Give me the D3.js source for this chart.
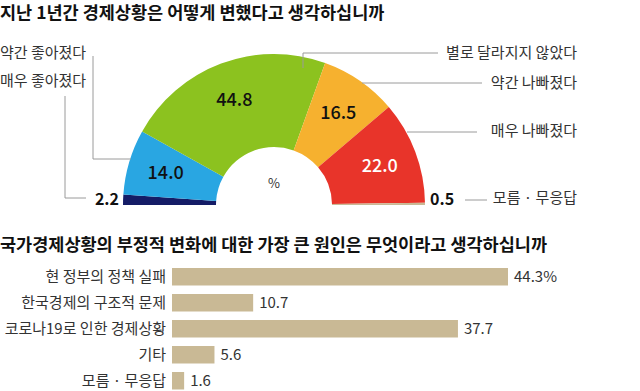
<!DOCTYPE html>
<html><head><meta charset="utf-8">
<script src="https://cdn.jsdelivr.net/npm/d3@7"></script>
<style>
html,body{margin:0;padding:0;background:#fff;}
text{font-family:"Noto Sans CJK KR","Noto Sans",sans-serif;}
</style></head>
<body><svg id="c" width="640" height="391"></svg>
<script>
const title1 = "지난 1년간 경제상황은 어떻게 변했다고 생각하십니까";
const title2 = "국가경제상황의 부정적 변화에 대한 가장 큰 원인은 무엇이라고 생각하십니까";

const pieCategories = ["매우 좋아졌다","약간 좋아졌다","별로 달라지지 않았다","약간 나빠졌다","매우 나빠졌다","모름 · 무응답"];
const pieValues = [2.2, 14.0, 44.8, 16.5, 22.0, 0.5];
const pieColors = ["#141c66","#29a6e2","#8cc21f","#f6b12f","#e8342a","#c9b995"];

const barCategories = ["현 정부의 정책 실패","한국경제의 구조적 문제","코로나19로 인한 경제상황","기타","모름 · 무응답"];
const barValues = [44.3, 10.7, 37.7, 5.6, 1.6];
const barLabels = ["44.3%","10.7","37.7","5.6","1.6"];

const svg = d3.select("#c");

// titles
svg.append("text").attr("x",0).attr("y",19).attr("font-size",17.5).attr("font-weight",700).attr("fill","#111").text(title1);
svg.append("text").attr("x",0).attr("y",251).attr("font-size",17.5).attr("font-weight",700).attr("fill","#111").text(title2);

// semi donut
const cx = 274, cy = 205, R = 151, r0 = 58;
const g = svg.append("g").attr("transform",`translate(${cx},${cy})`);
const pie = d3.pie().sort(null).value(d=>d).startAngle(-Math.PI/2).endAngle(Math.PI/2);
const arcs = pie(pieValues);
const arc = d3.arc().innerRadius(r0).outerRadius(R);
g.selectAll("path.s").data(arcs).join("path").attr("class","s")
  .attr("d",arc).attr("fill",(d,i)=>pieColors[i]);

const labArc = d3.arc().innerRadius(113).outerRadius(113);
g.selectAll("text.v").data(arcs.filter((d,i)=>i>=1 && i<=4)).join("text").attr("class","v")
  .attr("transform",d=>`translate(${labArc.centroid(d)})`)
  .attr("text-anchor","middle").attr("dy","0.36em")
  .attr("font-size",18).attr("font-weight",500)
  .attr("fill",d=>d.index===4?"#fff":"#111")
  .text(d=>d.value.toFixed(1));

g.append("text").attr("x",0).attr("y",-22).attr("text-anchor","middle").attr("dy","0.36em")
  .attr("font-size",13).attr("fill","#333").text("%");

// outer small-value labels
svg.append("text").attr("x",cx-R-4).attr("y",cy).attr("text-anchor","end")
  .attr("font-size",16).attr("font-weight",700).attr("fill","#111").text(pieValues[0].toFixed(1));
svg.append("text").attr("x",cx+R+5).attr("y",cy).attr("text-anchor","start")
  .attr("font-size",16).attr("font-weight",700).attr("fill","#111").text(pieValues[5].toFixed(1));

// leader lines + category labels
const lineColor = "#9a9a9a";
const leaders = [
  {pts:[[65,96],[65,198],[86,198]]},
  {pts:[[93,56],[93,159],[131,159]]},
  {pts:[[303,68],[303,53],[438,53]]},
  {pts:[[362,83],[482,83]]},
  {pts:[[407,132],[477,132]]},
  {pts:[[465,200],[487,200]]}
];
svg.selectAll("path.l").data(leaders).join("path").attr("class","l")
  .attr("d",d=>d3.line()(d.pts)).attr("fill","none").attr("stroke",lineColor).attr("stroke-width",1);

const leftLabels = [{t:pieCategories[1],y:53},{t:pieCategories[0],y:81}];
svg.selectAll("text.ll").data(leftLabels).join("text").attr("class","ll")
  .attr("x",0).attr("y",d=>d.y).attr("dy","0.36em").attr("font-size",15).attr("fill","#333").text(d=>d.t);
const rightLabels = [{t:pieCategories[2],y:53},{t:pieCategories[3],y:83},{t:pieCategories[4],y:131},{t:pieCategories[5],y:198}];
svg.selectAll("text.rl").data(rightLabels).join("text").attr("class","rl")
  .attr("x",577).attr("y",d=>d.y).attr("dy","0.36em").attr("text-anchor","end").attr("font-size",15).attr("fill","#333").text(d=>d.t);

// bar chart
const x = d3.scaleLinear().domain([0,44.3]).range([172,508]);
const y = d3.scaleBand().domain(barCategories).range([268,389.5]).paddingInner(0.327).paddingOuter(0);
svg.selectAll("rect.b").data(barValues).join("rect").attr("class","b")
  .attr("x",x(0)).attr("y",(d,i)=>y(barCategories[i]))
  .attr("width",d=>x(d)-x(0)).attr("height",y.bandwidth()).attr("fill","#c9b995");
svg.selectAll("text.bc").data(barCategories).join("text").attr("class","bc")
  .attr("x",166).attr("y",d=>y(d)+y.bandwidth()/2).attr("dy","0.36em").attr("text-anchor","end")
  .attr("font-size",15).attr("fill","#333").text(d=>d);
svg.selectAll("text.bv").data(barValues).join("text").attr("class","bv")
  .attr("x",d=>x(d)+6).attr("y",(d,i)=>y(barCategories[i])+y.bandwidth()/2).attr("dy","0.36em")
  .attr("font-size",15).attr("fill","#333").text((d,i)=>barLabels[i]);
</script></body></html>
